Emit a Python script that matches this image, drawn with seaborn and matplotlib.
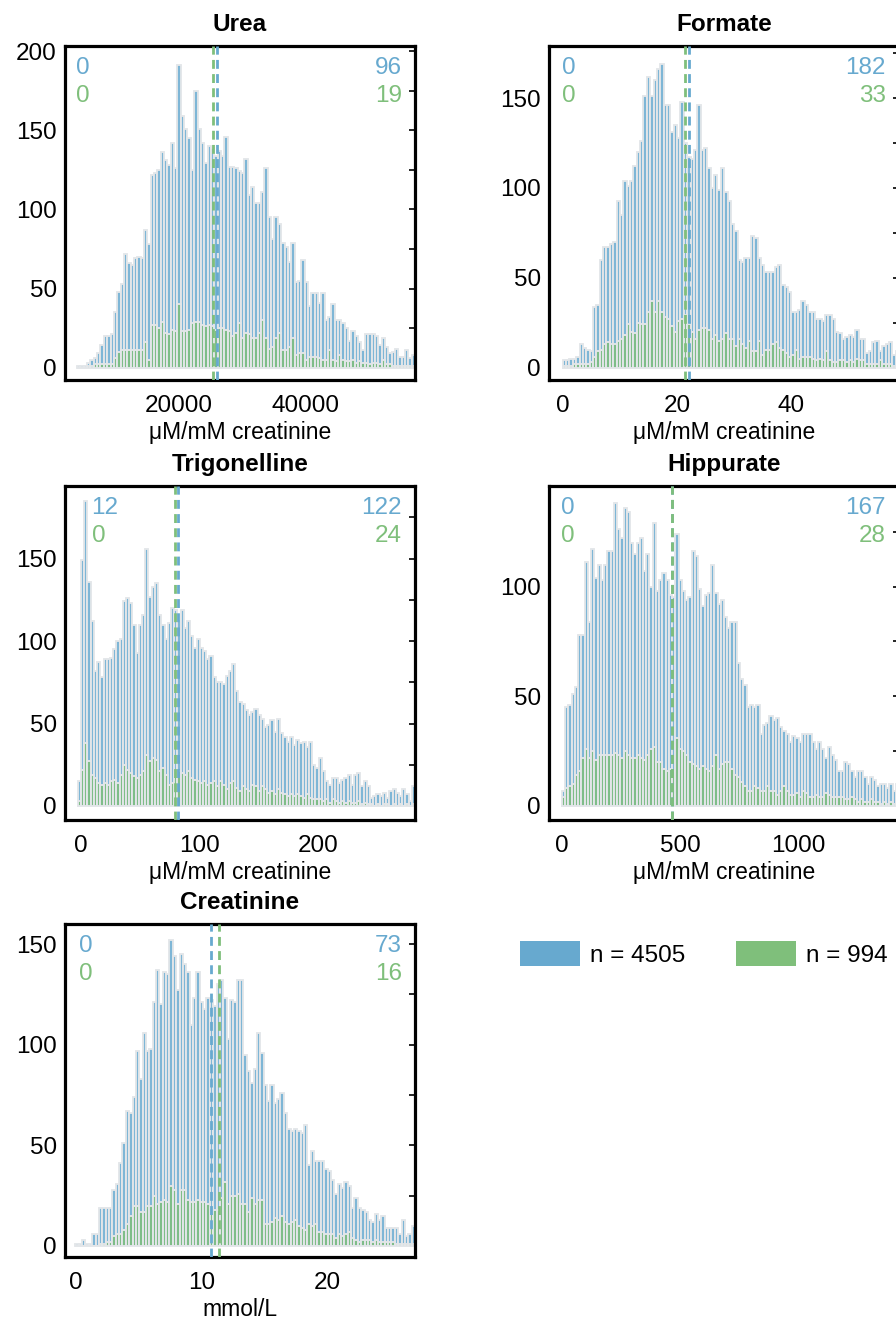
import numpy as np
import pandas as pd
import matplotlib
matplotlib.use("Agg")
import matplotlib.pyplot as plt
from matplotlib.patches import Patch
import seaborn as sns

# ---------------- data ----------------
titles = ["Urea", "Formate", "Trigonelline", "Hippurate", "Creatinine"]
xlabels = ["μM/mM creatinine", "μM/mM creatinine", "μM/mM creatinine",
           "μM/mM creatinine", "mmol/L"]

urea_blue = [1, 1, 1, 3, 5, 6, 9, 14, 20, 20,
             21, 35, 48, 53, 72, 66, 65, 69, 70, 69,
             87, 78, 122, 123, 125, 136, 131, 128, 142, 126,
             191, 159, 151, 145, 125, 175, 151, 142, 129, 140,
             139, 134, 137, 134, 146, 127, 127, 126, 124, 123,
             132, 109, 114, 104, 104, 111, 126, 95, 81, 95,
             91, 79, 76, 67, 79, 54, 55, 68, 54, 39,
             47, 47, 41, 47, 30, 32, 40, 30, 30, 28,
             25, 17, 23, 20, 16, 11, 21, 21, 21, 20,
             14, 19, 13, 9, 10, 12, 7, 7, 11, 6,
             8]
urea_green = [0, 0, 0, 1, 1, 2, 2, 2, 2, 2,
              2, 6, 10, 11, 11, 11, 11, 11, 11, 11,
              16, 5, 27, 27, 25, 29, 22, 21, 24, 23,
              40, 23, 23, 24, 28, 29, 29, 27, 26, 27,
              26, 24, 25, 25, 24, 23, 20, 22, 28, 19,
              22, 21, 19, 19, 22, 30, 19, 12, 13, 19,
              22, 11, 11, 13, 19, 8, 9, 9, 5, 7,
              7, 7, 6, 5, 5, 11, 5, 4, 8, 5,
              4, 4, 5, 3, 4, 3, 3, 2, 3, 3,
              2, 5, 2, 2, 1, 1, 1, 1, 1, 1,
              1]

formate_blue = [4, 4, 5, 5, 6, 13, 11, 10, 9, 34,
                35, 60, 67, 67, 69, 70, 93, 85, 104, 101,
                104, 112, 120, 126, 151, 162, 151, 160, 166, 169,
                146, 146, 131, 135, 128, 148, 125, 117, 116, 121,
                146, 121, 122, 111, 100, 107, 99, 111, 98, 93,
                80, 76, 60, 59, 61, 61, 73, 72, 61, 57,
                53, 53, 53, 56, 57, 46, 45, 42, 31, 31,
                32, 37, 35, 31, 31, 27, 27, 26, 29, 29,
                27, 20, 19, 16, 17, 18, 17, 21, 16, 16,
                8, 9, 14, 15, 9, 12, 13, 14, 7, 9]
formate_green = [1, 1, 1, 2, 2, 2, 2, 2, 3, 6,
                 9, 10, 13, 14, 13, 13, 15, 16, 18, 24,
                 20, 19, 25, 24, 24, 31, 37, 31, 37, 31,
                 28, 27, 23, 20, 26, 27, 29, 24, 20, 16,
                 21, 22, 22, 21, 16, 18, 15, 16, 19, 16,
                 16, 12, 16, 13, 11, 15, 9, 9, 15, 7,
                 10, 10, 13, 14, 11, 10, 8, 6, 7, 10,
                 5, 6, 6, 6, 5, 4, 5, 4, 9, 4,
                 3, 3, 4, 4, 3, 4, 3, 5, 4, 4,
                 2, 2, 2, 2, 4, 2, 2, 2, 1, 1]

trig_blue = [15, 149, 185, 136, 112, 82, 87, 78, 89, 89,
             90, 95, 100, 101, 124, 126, 123, 110, 93, 110,
             116, 156, 127, 133, 135, 116, 110, 101, 111, 120,
             119, 112, 119, 108, 112, 103, 96, 101, 96, 94,
             89, 91, 78, 75, 75, 74, 79, 82, 86, 70,
             63, 62, 58, 55, 57, 59, 55, 53, 48, 49,
             52, 45, 53, 44, 42, 39, 42, 37, 40, 38,
             39, 36, 39, 25, 23, 29, 21, 15, 13, 17,
             17, 14, 16, 17, 19, 13, 19, 20, 12, 15,
             12,
             5, 6, 7, 6, 8, 5, 9, 10, 8, 6, 10, 7, 3, 12]
trig_green = [3, 22, 38, 27, 19, 17, 14, 13, 14, 13,
              15, 16, 14, 19, 25, 22, 20, 18, 17, 19,
              21, 31, 27, 29, 28, 21, 23, 19, 13, 14,
              19, 21, 20, 19, 21, 17, 16, 15, 14, 15,
              13, 14, 15, 12, 15, 13, 10, 14, 15, 11,
              9, 12, 10, 9, 13, 12, 9, 12, 10, 8,
              9, 7, 10, 8, 7, 6, 7, 6, 7, 6,
              5, 7, 5, 4, 4, 4, 3, 4, 2, 4,
              3, 2, 3, 2, 3, 2, 2, 3, 1, 2,
              1,
              1, 0, 1, 0, 1, 1, 0, 1, 0, 1, 0, 1, 0, 1]

hipp_blue = [7, 45, 46, 51, 54, 78, 78, 111, 84, 117,
             104, 110, 103, 110, 116, 116, 138, 126, 122, 136,
             134, 120, 115, 120, 122, 107, 115, 100, 129, 98,
             103, 106, 103, 96, 95, 124, 103, 98, 94, 95,
             116, 114, 99, 91, 96, 97, 110, 97, 92, 94,
             86, 81, 84, 84, 65, 58, 55, 45, 46, 45,
             46, 33, 37, 38, 41, 39, 40, 36, 34, 33,
             29, 32, 31, 29, 33, 33, 33, 29, 26, 29,
             26, 22, 27, 23, 21, 16, 16, 20, 19, 16,
             13, 16, 16, 13, 10, 13, 12, 9, 10, 10,
             8, 10, 7, 10]
hipp_green = [4, 8, 9, 10, 14, 16, 22, 26, 22, 25,
              21, 23, 23, 23, 23, 23, 24, 23, 22, 25,
              23, 22, 22, 23, 22, 21, 23, 26, 27, 20,
              20, 17, 16, 17, 16, 31, 26, 25, 23, 20,
              19, 18, 17, 18, 17, 16, 18, 23, 17, 19,
              20, 20, 17, 14, 13, 11, 9, 7, 7, 9,
              8, 7, 7, 9, 7, 7, 5, 7, 9, 7,
              5, 5, 6, 4, 7, 6, 4, 4, 5, 4,
              4, 6, 5, 4, 4, 4, 4, 3, 3, 4,
              3, 2, 3, 2, 2, 3, 2, 2, 1, 2,
              1, 2, 1, 1]

creat_blue = [1, 1, 3, 1, 1, 6, 6, 19, 19, 19,
              19, 28, 31, 41, 51, 67, 66, 74, 97, 83,
              106, 97, 98, 121, 137, 120, 136, 135, 152, 144,
              127, 145, 140, 136, 110, 123, 136, 121, 118, 123,
              122, 119, 130, 132, 123, 103, 122, 121, 132, 132,
              95, 87, 81, 88, 106, 96, 80, 72, 80, 71,
              73, 76, 66, 58, 57, 58, 57, 56, 60, 40,
              47, 42, 42, 42, 38, 37, 33, 26, 31, 29,
              32, 30, 19, 24, 19, 18, 17, 13, 12, 16,
              13, 15, 9, 9, 9, 9, 6, 13, 5, 6,
              10]
creat_green = [0, 0, 0, 0, 0, 0, 0, 1, 1, 2,
               2, 5, 6, 6, 8, 11, 15, 20, 20, 17,
               17, 20, 20, 25, 21, 22, 23, 22, 30, 28,
               21, 28, 28, 23, 22, 22, 23, 22, 22, 21,
               19, 18, 18, 24, 32, 21, 25, 25, 26, 21,
               21, 17, 24, 21, 23, 23, 11, 11, 12, 14,
               13, 15, 12, 11, 12, 13, 10, 9, 8, 11,
               10, 11, 7, 7, 6, 6, 6, 4, 6, 5,
               6, 7, 4, 3, 2, 3, 3, 3, 2, 3,
               2, 2, 2, 2, 2, 1, 1, 1, 1, 1,
               1]

blue_counts = [urea_blue, formate_blue, trig_blue, hipp_blue, creat_blue]
green_counts = [urea_green, formate_green, trig_green, hipp_green, creat_green]

blue_means = [26100, 22.1, 81.7, 466, 10.77]
green_means = [25420, 21.4, 79.5, 467, 11.38]

below_blue = [0, 0, 12, 0, 0]
below_green = [0, 0, 0, 0, 0]
above_blue = [96, 182, 122, 167, 73]
above_green = [19, 33, 24, 28, 16]

n_blue_label = "n = 4505"
n_green_label = "n = 994"

# ---------------- layout / style config ----------------
bin_range = [(4113, 57085), (0.0, 58.8), (-2.3, 281.7), (0.0, 1428), (0.0, 26.96)]
xlims = [(2226, 57085), (-2.4, 58.8), (-13.1, 281.7), (-55, 1428), (-0.82, 26.96)]
ylims = [(-7.8, 203.2), (-6.9, 179), (-8.5, 194), (-6.4, 145.8), (-5.5, 160)]
xticks = [list(range(5000, 55001, 5000)), list(range(0, 51, 10)),
          list(range(0, 251, 50)), list(range(0, 1251, 250)), list(range(0, 26, 5))]
xticklabels_show = [{20000, 40000}, {0, 20, 40}, {0, 100, 200}, {0, 500, 1000}, {0, 10, 20}]
yticks = [list(range(0, 201, 25)), list(range(0, 176, 25)), list(range(0, 176, 25)),
          list(range(0, 126, 25)), list(range(0, 151, 25))]
yticklabels_show = [{0, 50, 100, 150, 200}, {0, 50, 100, 150}, {0, 50, 100, 150},
                    {0, 50, 100}, {0, 50, 100, 150}]
left_text_x = [0.030, 0.036, 0.076, 0.033, 0.039]

W, H = 896, 1322
ax_px = [(65, 46, 350, 334), (549, 46, 350, 334),
         (65, 486, 350, 334), (549, 486, 350, 334),
         (65, 924, 350, 333)]

BLUE = "#67a9cf"
GREEN = "#7fbf7b"
EDGE = "#e3e6e9"
FS = 17.5

sns.set_style("white")
plt.rcParams['font.family'] = ['Liberation Sans', 'DejaVu Sans']
plt.rcParams['font.size'] = FS
for k in ['text.color', 'axes.labelcolor', 'xtick.color', 'ytick.color']:
    plt.rcParams[k] = 'black'

fig = plt.figure(figsize=(W / 100, H / 100), dpi=100)

for i in range(5):
    l, t, w, h = ax_px[i]
    ax = fig.add_axes([l / W, 1 - (t + h) / H, w / W, h / H])
    b = [float(v) for v in blue_counts[i]]
    g = [float(v) for v in green_counts[i]]
    n = len(b)
    edges = np.linspace(bin_range[i][0], bin_range[i][1], n + 1)
    centers = 0.5 * (edges[:-1] + edges[1:])
    df = pd.DataFrame({"x": centers, "blue": b, "green": g})
    edge_list = [float(e) for e in edges]
    sns.histplot(data=df, x="x", weights="blue", bins=edge_list, color=BLUE, alpha=0.85,
                 edgecolor=EDGE, linewidth=1.35, ax=ax, legend=False)
    sns.histplot(data=df, x="x", weights="green", bins=edge_list, color=GREEN, alpha=0.85,
                 edgecolor=EDGE, linewidth=1.35, ax=ax, legend=False)
    dash = (0, (3.2, 1.9))
    ax.axvline(blue_means[i], color=BLUE, ls=dash, lw=2.0, zorder=5)
    ax.axvline(green_means[i], color=GREEN, ls=dash, lw=2.0, zorder=6)

    ax.set_xlim(*xlims[i])
    ax.set_ylim(*ylims[i])
    ax.set_xticks(xticks[i])
    ax.set_xticklabels([str(v) if v in xticklabels_show[i] else "" for v in xticks[i]])
    ax.set_yticks(yticks[i])
    ax.set_yticklabels([str(v) if v in yticklabels_show[i] else "" for v in yticks[i]])
    ax.tick_params(axis='x', direction='out', length=5, width=1.5, color='black',
                   labelsize=FS, pad=5.5)
    ax.tick_params(axis='y', direction='out', length=4, width=1.5, color='black',
                   labelsize=FS, pad=2)
    ax.set_ylabel("")
    ax.set_xlabel(xlabels[i], fontsize=16.5, labelpad=3)
    ax.set_title(titles[i], fontweight='bold', fontsize=17.5, pad=11)
    for sp in ax.spines.values():
        sp.set_visible(True)
        sp.set_linewidth(2.3)
        sp.set_color('black')

    secx = ax.secondary_xaxis('top')
    secx.set_xticks(xticks[i])
    secx.set_xticklabels([])
    secx.tick_params(direction='in', length=4, width=1.2, color='white')
    secx.spines['top'].set_visible(False)
    secy = ax.secondary_yaxis('right')
    secy.set_yticks(yticks[i])
    secy.set_yticklabels([])
    secy.tick_params(direction='in', length=4, width=1.2, color='black')
    secy.spines['right'].set_visible(False)

    ax.text(left_text_x[i], 0.935, str(below_blue[i]), transform=ax.transAxes,
            color=BLUE, fontsize=FS, ha='left', va='center', zorder=10)
    ax.text(left_text_x[i], 0.849, str(below_green[i]), transform=ax.transAxes,
            color=GREEN, fontsize=FS, ha='left', va='center', zorder=10)
    ax.text(0.962, 0.935, str(above_blue[i]), transform=ax.transAxes,
            color=BLUE, fontsize=FS, ha='right', va='center', zorder=10)
    ax.text(0.962, 0.849, str(above_green[i]), transform=ax.transAxes,
            color=GREEN, fontsize=FS, ha='right', va='center', zorder=10)

handles = [Patch(facecolor=BLUE, edgecolor='none'), Patch(facecolor=GREEN, edgecolor='none')]
fig.legend(handles, [n_blue_label, n_green_label], ncol=2, loc='center left',
           bbox_to_anchor=(520 / W, 1 - 954 / H), frameon=False, fontsize=FS,
           handlelength=2.47, handleheight=1.23, handletextpad=0.41,
           columnspacing=2.1, borderpad=0, borderaxespad=0)

fig.savefig("out.png", dpi=100)
